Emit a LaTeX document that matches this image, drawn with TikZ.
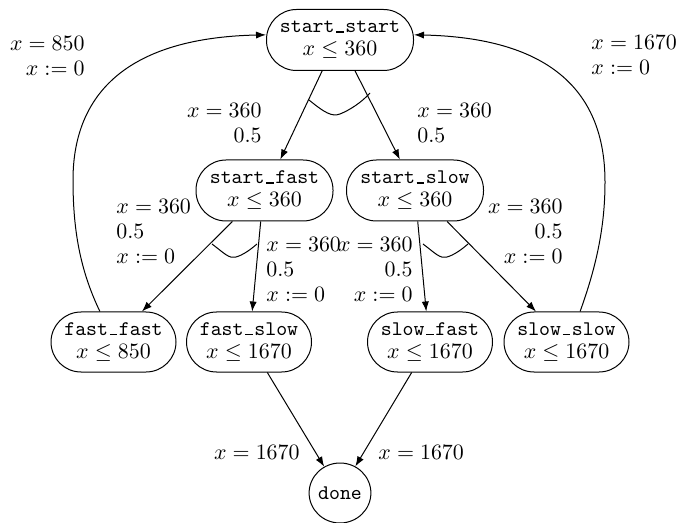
\documentclass[tikz,border=0pt]{standalone}
\usetikzlibrary{arrows.meta,shapes.geometric}
\newcommand\tto{\fontsize{10.4}{11.5}\selectfont\ttfamily}
\newcommand\us{\makebox[0.525em][c]{\rule{0.36em}{0.07em}}}
\tikzset{
  state/.style={draw, line width=0.5pt, rectangle, rounded corners=15pt, minimum height=30.5pt, inner sep=0pt, align=center, font=\fontsize{11.15}{11.5}\selectfont},
  endstate/.style={draw, line width=0.5pt, ellipse, minimum width=29pt, minimum height=30pt, inner sep=0pt},
  lbl/.style={inner sep=0pt, font=\fontsize{11.15}{12.5}\selectfont},
  edge/.style={line width=0.5pt, -{Latex[length=5pt,width=3.6pt]}},
  parc/.style={line width=0.5pt}
}
\begin{document}
\begin{tikzpicture}[x=0.5pt,y=-0.5pt]
\useasboundingbox (0,0) rectangle (679,523);
% states
\node[state, minimum width=73.5pt] (ss) at (340,40) {{\tto start\us start}\\$x \leq 360$};
\node[state, minimum width=68.5pt] (sf) at (264.5,190.5) {{\tto start\us fast}\\$x \leq 360$};
\node[state, minimum width=68.5pt] (sw) at (415,190.5) {{\tto start\us slow}\\$x \leq 360$};
\node[state, minimum width=62.5pt, minimum height=30pt] (ff) at (113.5,342) {{\tto fast\us fast}\\$x \leq 850$};
\node[state, minimum width=62.5pt, minimum height=30pt] (fs) at (249,342) {{\tto fast\us slow}\\$x \leq 1670$};
\node[state, minimum width=62.5pt, minimum height=30pt] (sfa) at (430,342) {{\tto slow\us fast}\\$x \leq 1670$};
\node[state, minimum width=62.5pt, minimum height=30pt] (ssl) at (566.5,342) {{\tto slow\us slow}\\$x \leq 1670$};
\node[endstate] (done) at (340,493) {\tto done};
% edges
\draw[edge] (ss.240.5) -- (sf.63);
\draw[edge] (ss.296.6) -- (sw.116);
\draw[edge] (sf.224) -- (ff.47);
\draw[edge] (sf.263.5) -- (fs.84.3);
\draw[edge] (sw.275.6) -- (sfa.97.6);
\draw[edge] (sw.316.4) -- (ssl.135.5);
\draw[edge] (fs.301) -- (done.121);
\draw[edge] (sfa.239) -- (done.60);
\draw[edge] (ff.114) .. controls (80,270) and (73,230) .. (73,180)
  .. controls (73,100) and (120,38) .. (ss.176);
\draw[edge] (ssl.66) .. controls (595,270) and (605,230) .. (605,182)
  .. controls (605,100) and (560,38) .. (ss.4);
% probability arcs
\draw[parc] (309,100) .. controls (325,113) and (332,117) .. (340,114) .. controls (350,110) and (362,102) .. (370,93);
\draw[parc] (212,244) .. controls (224,253) and (229,259) .. (236,257) .. controls (243,255) and (250,250) .. (257,244);
\draw[parc] (423,244) .. controls (435,253) and (440,259) .. (447,257) .. controls (454,255) and (461,250) .. (468,244);
% labels
\node[lbl, anchor=east, align=right] (l1) at (85,55.5) {$x=850$\\$x:=0$};
\node[lbl, anchor=west, align=left] (l2) at (591,54.5) {$x=1670$\\$x:=0$};
\node[lbl, anchor=east, align=right] (l3) at (262,122.5) {$x=360$\\$0.5$};
\node[lbl, anchor=west, align=left] (l4) at (417,122.5) {$x=360$\\$0.5$};
\node[lbl, anchor=west, align=left] (l5) at (116,231) {$x=360$\\$0.5$\\$x:=0$};
\node[lbl, anchor=west, align=left] (l6) at (266,269.5) {$x=360$\\$0.5$\\$x:=0$};
\node[lbl, anchor=east, align=right] (l7) at (413,269.5) {$x=360$\\$0.5$\\$x:=0$};
\node[lbl, anchor=east, align=right] (l8) at (563,231) {$x=360$\\$0.5$\\$x:=0$};
\node[lbl, anchor=east] (l9) at (300,452) {$x=1670$};
\node[lbl, anchor=west] (l10) at (378,452) {$x=1670$};
\end{tikzpicture}
\end{document}
